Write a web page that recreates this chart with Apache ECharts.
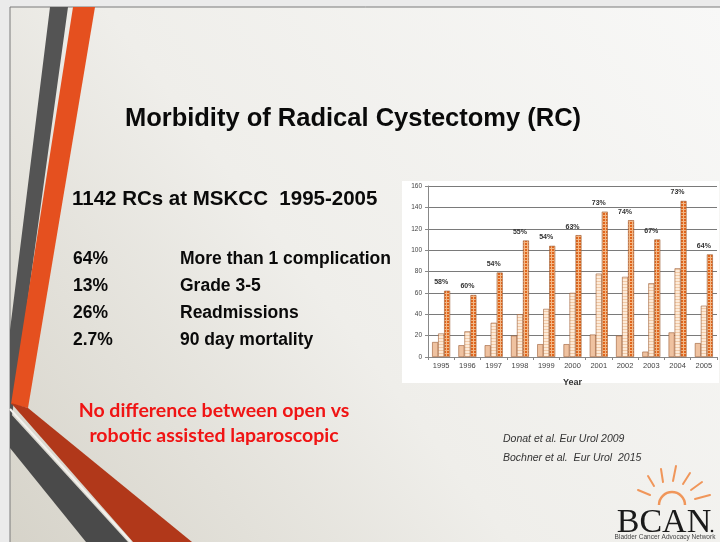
<!DOCTYPE html>
<html>
<head>
<meta charset="utf-8">
<script src="https://cdn.jsdelivr.net/npm/echarts@6/dist/echarts.min.js"></script>
<style>
  html, body { margin: 0; padding: 0; background: #ebebeb; }
  #chart { width: 720px; height: 542px; }
</style>
</head>
<body>
<div id="chart"></div>
<script>
var years = ['1995', '1996', '1997', '1998', '1999', '2000', '2001', '2002', '2003', '2004', '2005'];
var lightVals = [14, 11, 11, 20, 12, 12, 21, 20, 5, 23, 13];
var midVals = [22, 24, 32, 40, 45, 60, 78, 75, 69, 83, 48];
var totalVals = [62, 58, 79, 109, 104, 114, 136, 128, 110, 146, 96];
var pctLabels = ['58%', '60%', '54%', '55%', '54%', '63%', '73%', '74%', '67%', '73%', '64%'];

var stats = ['64%', '13%', '26%', '2.7%'];
var statNames = ['More than 1 complication', 'Grade 3-5', 'Readmissions', '90 day mortality'];

function pattern(bg, fg, rects) {
    var c = document.createElement('canvas');
    c.width = 3; c.height = 3;
    var ctx = c.getContext('2d');
    ctx.fillStyle = bg;
    ctx.fillRect(0, 0, 3, 3);
    ctx.fillStyle = fg;
    rects.forEach(function (r) { ctx.fillRect(r[0], r[1], r[2], r[3]); });
    return { image: c, repeat: 'repeat' };
}

var orangeFill = pattern('#f4b784', '#e0651c', [[0, 0, 2, 2]]);
var midFill = pattern('#fdebd9', '#f1c9a6', [[0, 2, 3, 1]]);

var chart = echarts.init(document.getElementById('chart'));

var graphics = [
    // slide background
    { type: 'rect', z: -10, shape: { x: 10, y: 7, width: 712, height: 540 },
      style: { fill: new echarts.graphic.LinearGradient(1, 0, 0, 1, [
          { offset: 0, color: '#f8f8f7' }, { offset: 0.55, color: '#efeeea' }, { offset: 1, color: '#d6d3c9' }]),
          stroke: '#7a7a7a', lineWidth: 1 } },
    // dark stripe (top left)
    { type: 'polygon', z: -9, shape: { points: [[50, 7], [68, 7], [23, 335], [10, 430], [10, 330]] },
      style: { fill: '#545454' } },
    // orange stripe
    { type: 'polygon', z: -8, shape: { points: [[73, 7], [95, 7], [28, 408], [11, 404]] },
      style: { fill: '#e5501f' } },
    // bottom dark red wedge
    { type: 'polygon', z: -8, shape: { points: [[11, 403], [28, 408], [192, 542], [133, 542]] },
      style: { fill: '#b1381a' } },
    // white separator
    { type: 'line', z: -7, shape: { x1: 10, y1: 409, x2: 131, y2: 542 },
      style: { stroke: '#f4f2ee', lineWidth: 2 } },
    // bottom dark band
    { type: 'polygon', z: -8, shape: { points: [[10, 413], [128, 542], [86, 542], [10, 448]] },
      style: { fill: '#4a4a4a' } },
    // chart white box
    { type: 'rect', z: -6, shape: { x: 402, y: 181, width: 317, height: 202 },
      style: { fill: '#ffffff' } },
    // title
    { type: 'text', z: 5, x: 353, y: 119,
      style: { text: 'Morbidity of Radical Cystectomy (RC)', font: 'bold 25.5px "Liberation Sans", Arial',
               fill: '#0a0a0a', align: 'center', verticalAlign: 'middle' } },
    { type: 'text', z: 5, x: 72, y: 199,
      style: { text: '1142 RCs at MSKCC  1995-2005', font: 'bold 20.5px "Liberation Sans", Arial',
               fill: '#0a0a0a', verticalAlign: 'middle' } },
    // red note
    { type: 'text', z: 5, x: 214, y: 411,
      style: { text: 'No difference between open vs', font: 'bold 19.5px Lato, "Open Sans"',
               fill: '#f01414', align: 'center', verticalAlign: 'middle' } },
    { type: 'text', z: 5, x: 214, y: 436,
      style: { text: 'robotic assisted laparoscopic', font: 'bold 19.5px Lato, "Open Sans"',
               fill: '#f01414', align: 'center', verticalAlign: 'middle' } },
    // citations
    { type: 'text', z: 5, x: 503, y: 439,
      style: { text: 'Donat et al. Eur Urol 2009', font: 'italic 10.5px "Liberation Sans", Arial',
               fill: '#333333', verticalAlign: 'middle' } },
    { type: 'text', z: 5, x: 503, y: 458,
      style: { text: 'Bochner et al.  Eur Urol  2015', font: 'italic 10.5px "Liberation Sans", Arial',
               fill: '#333333', verticalAlign: 'middle' } },
    // BCAN logo
    { type: 'arc', z: 5, shape: { cx: 672, cy: 505, r: 13, startAngle: Math.PI, endAngle: 2 * Math.PI },
      style: { stroke: '#f0965a', lineWidth: 2.5, fill: null } },
    { type: 'text', z: 5, x: 664, y: 523,
      style: { text: 'BCAN', font: '34px "Liberation Serif", "DejaVu Serif"', fill: '#1a1a1a',
               align: 'center', verticalAlign: 'middle' } },
    { type: 'circle', z: 5, shape: { cx: 712, cy: 531, r: 1.3 }, style: { fill: '#1a1a1a' } },
    { type: 'text', z: 5, x: 665, y: 537,
      style: { text: 'Bladder Cancer Advocacy Network', font: '6.5px "Liberation Sans", Arial',
               fill: '#444444', align: 'center', verticalAlign: 'middle' } }
];

// sun rays
var rays = [[654, 486, 648, 476], [663, 482, 661, 469], [673, 481, 676, 466], [683, 484, 690, 473],
            [691, 490, 702, 482], [695, 499, 710, 495], [650, 495, 638, 490]];
rays.forEach(function (r) {
    graphics.push({ type: 'line', z: 5, shape: { x1: r[0], y1: r[1], x2: r[2], y2: r[3] },
        style: { stroke: '#f0965a', lineWidth: 2, lineCap: 'round' } });
});

// stat rows
stats.forEach(function (s, i) {
    var y = 259 + i * 27;
    graphics.push({ type: 'text', z: 5, x: 73, y: y,
        style: { text: s, font: 'bold 17.5px "Liberation Sans", Arial', fill: '#0a0a0a', verticalAlign: 'middle' } });
    graphics.push({ type: 'text', z: 5, x: 180, y: y,
        style: { text: statNames[i], font: 'bold 17.5px "Liberation Sans", Arial', fill: '#0a0a0a', verticalAlign: 'middle' } });
});

var barBorder = { borderColor: '#9a5a32', borderWidth: 0.6 };

var option = {
    animation: false,
    textStyle: { fontFamily: '"Liberation Sans", Arial' },
    graphic: graphics,
    grid: { left: 428, right: 3, top: 186, bottom: 185 },
    xAxis: {
        type: 'category',
        data: years,
        name: 'Year',
        nameLocation: 'middle',
        nameGap: 21,
        nameTextStyle: { fontSize: 9, fontWeight: 'bold', color: '#333' },
        axisLine: { lineStyle: { color: '#888', width: 1 } },
        axisTick: { show: true, length: 3, lineStyle: { color: '#888' } },
        axisLabel: { fontSize: 7.5, color: '#444', margin: 5 }
    },
    yAxis: {
        type: 'value',
        min: 0,
        max: 160,
        interval: 20,
        axisLine: { show: true, lineStyle: { color: '#888', width: 1 } },
        axisTick: { show: true, length: 3, lineStyle: { color: '#888' } },
        axisLabel: { fontSize: 6.5, color: '#444', margin: 6 },
        splitLine: { lineStyle: { color: '#7a7a7a', width: 1 } }
    },
    series: [
        {
            type: 'bar', data: lightVals, barWidth: 6, barGap: '0%',
            itemStyle: Object.assign({ color: '#efc2a0' }, barBorder)
        },
        {
            type: 'bar', data: midVals, barWidth: 6, barGap: '0%',
            itemStyle: Object.assign({ color: midFill }, barBorder)
        },
        {
            type: 'bar', data: totalVals, barWidth: 6, barGap: '0%',
            itemStyle: Object.assign({ color: orangeFill }, barBorder),
            label: {
                show: true,
                position: 'top',
                distance: 5,
                offset: [-6, 0],
                fontSize: 7,
                fontWeight: 'bold',
                color: '#333',
                formatter: function (p) { return pctLabels[p.dataIndex]; }
            }
        }
    ]
};

chart.setOption(option);
</script>
</body>
</html>
